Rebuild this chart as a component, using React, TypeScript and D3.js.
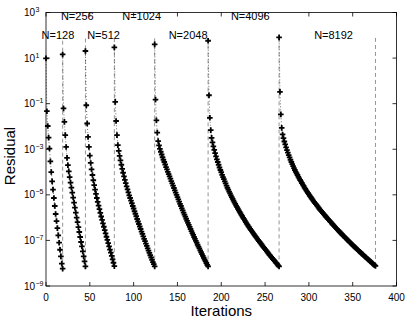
import React from "react";
import * as d3 from "d3";

// grid sizes, and the iteration at which each grid's solve starts
const gridSizes = [128, 256, 512, 1024, 2048, 4096, 8192];
const startIters = [0, 19, 45, 78, 124, 185, 266];

// log10 of the residual, one entry per iteration
const log10Res128 = [0.99, -1.33, -1.98, -2.49, -2.97, -3.53, -4.0, -4.41, -4.77, -5.14, -5.49, -5.84, -6.15, -6.46, -6.78, -7.1, -7.41, -7.7, -8.02, -8.24];
const log10Res256 = [1.16, -1.21, -1.8, -2.38, -2.9, -3.38, -3.7, -3.97, -4.22, -4.46, -4.68, -4.9, -5.12, -5.34, -5.56, -5.78, -6.0, -6.2, -6.42, -6.63, -6.85, -7.07, -7.26, -7.48, -7.7, -7.92, -8.14];
const log10Res512 = [1.31, -1.07, -1.87, -2.46, -2.9, -3.28, -3.6, -3.88, -4.13, -4.36, -4.57, -4.77, -4.96, -5.14, -5.31, -5.47, -5.63, -5.79, -5.95, -6.1, -6.25, -6.4, -6.55, -6.69, -6.84, -6.98, -7.12, -7.26, -7.4, -7.54, -7.68, -7.83, -7.98, -8.13];
const log10Res1024 = [1.47, -0.92, -1.76, -2.38, -2.82, -3.07, -3.29, -3.49, -3.68, -3.86, -4.03, -4.19, -4.34, -4.49, -4.63, -4.76, -4.89, -5.02, -5.14,
  -5.25, -5.37, -5.49, -5.6, -5.72, -5.83, -5.94, -6.06, -6.17, -6.28, -6.39, -6.5, -6.61, -6.71, -6.82, -6.93, -7.03, -7.14, -7.24, -7.35,
  -7.45, -7.55, -7.65, -7.75, -7.85, -7.95, -8.04, -8.14];
const log10Res2048 = [1.6, -0.82, -1.73, -2.27, -2.64, -2.83, -2.98, -3.11, -3.23, -3.35, -3.46, -3.56, -3.67, -3.78, -3.88, -3.99, -4.09, -4.19,
  -4.29, -4.4, -4.5, -4.6, -4.7, -4.8, -4.9, -5.0, -5.1, -5.2, -5.3, -5.4, -5.49, -5.59,
  -5.68, -5.78, -5.87, -5.96, -6.05, -6.14, -6.23, -6.32, -6.41, -6.5, -6.59, -6.68, -6.76, -6.85, -6.93, -7.02, -7.1, -7.19, -7.27, -7.35, -7.44,
  -7.52, -7.6, -7.68, -7.76, -7.84, -7.91, -7.99, -8.07, -8.14];
const log10Res4096 = [1.76, -0.63, -1.62, -2.16, -2.5,
  -2.7, -2.87, -3.03, -3.17, -3.31, -3.44, -3.56, -3.68, -3.8, -3.91, -4.01, -4.12,
  -4.22, -4.31, -4.41, -4.5, -4.6, -4.69, -4.77, -4.86, -4.94, -5.02, -5.1, -5.18, -5.25,
  -5.33, -5.4, -5.47, -5.54, -5.61, -5.68, -5.75, -5.81, -5.88, -5.94, -6.01, -6.07, -6.13, -6.2, -6.26, -6.32, -6.38, -6.43, -6.49, -6.55, -6.6, -6.66, -6.71,
  -6.77, -6.82, -6.87, -6.92, -6.98, -7.03, -7.08, -7.13, -7.18, -7.23, -7.28, -7.33, -7.38, -7.43, -7.48, -7.53, -7.58, -7.63, -7.67, -7.72, -7.77, -7.82, -7.86, -7.91, -7.96, -8.0, -8.05, -8.1, -8.14];
const log10Res8192 = [1.91, -0.48, -1.47, -2.06, -2.35,
  -2.51, -2.66, -2.79, -2.92, -3.04, -3.15, -3.26, -3.36, -3.46, -3.56, -3.65, -3.74, -3.83, -3.91, -3.99, -4.06,
  -4.13, -4.21, -4.28, -4.35, -4.41, -4.48, -4.55, -4.61, -4.68, -4.74,
  -4.8, -4.86, -4.92, -4.98, -5.04, -5.09, -5.15, -5.2, -5.25, -5.31,
  -5.36, -5.41, -5.46, -5.51, -5.56, -5.61, -5.66, -5.7, -5.75, -5.8,
  -5.85, -5.89, -5.94, -5.98, -6.03, -6.07, -6.11, -6.16, -6.2, -6.25,
  -6.29, -6.33, -6.37, -6.42, -6.46, -6.5, -6.54, -6.58, -6.62, -6.66,
  -6.7, -6.74, -6.78, -6.82, -6.86, -6.9, -6.94, -6.98, -7.01, -7.05,
  -7.09, -7.13, -7.17, -7.2, -7.24, -7.28, -7.31, -7.35, -7.39, -7.42,
  -7.46, -7.5, -7.53, -7.57, -7.6, -7.64, -7.67, -7.71, -7.74, -7.78,
  -7.81, -7.85, -7.88, -7.92, -7.95, -7.99, -8.02, -8.06, -8.09, -8.12];

const seriesLogs = [log10Res128, log10Res256, log10Res512, log10Res1024, log10Res2048, log10Res4096, log10Res8192];

// text annotations "N=..." (iteration where the text starts, log10 height)
const labelIters = [-5, 17, 47, 87, 140, 211, 306];
const labelLogY = [1.84, 2.65, 1.84, 2.65, 1.84, 2.65, 1.84];
const separatorTop = 80; // residual where the dashed end markers stop

const xTicks = [0, 50, 100, 150, 200, 250, 300, 350, 400];
const yTickExps = [3, 1, -1, -3, -5, -7, -9];

const FONT = "'Liberation Sans', Arial, Helvetica, sans-serif";

export default function App() {
  const W = 409, H = 322;
  const m = {top: 12.5, right: 12.5, bottom: 36, left: 46};

  const x = d3.scaleLinear().domain([0, 400]).range([m.left, W - m.right]);
  const y = d3.scaleLog().domain([1e-9, 1e3]).range([H - m.bottom, m.top]);

  const series = gridSizes.map((n, i) => ({
    n,
    pts: seriesLogs[i].map((e, k) => [startIters[i] + k, Math.pow(10, e)] as [number, number]),
  }));

  const line = d3.line<[number, number]>().x(d => x(d[0])).y(d => y(d[1]));

  const x0 = m.left, x1 = W - m.right, y0 = H - m.bottom, y1 = m.top;
  const tk = 4;

  return (
    <div>
      <style>{`body{margin:0}`}</style>
      <svg width={W} height={H} style={{display: "block", background: "#fff"}} fontFamily={FONT}>
        {/* dashed separators at the last iteration of each grid */}
        {series.map(s => {
          const last = s.pts[s.pts.length - 1];
          return (
            <line key={"sep" + s.n} x1={x(last[0])} x2={x(last[0])} y1={y(last[1])} y2={y(separatorTop)}
                  stroke="#7a7a7a" strokeWidth={0.8} strokeDasharray="4,3"/>
          );
        })}

        {/* dotted residual lines */}
        {series.map(s => (
          <path key={"ln" + s.n} d={line(s.pts) || ""} fill="none" stroke="#333" strokeWidth={0.7} strokeDasharray="1,2"/>
        ))}

        {/* plus markers */}
        {series.map(s => (
          <g key={"mk" + s.n}>
            {s.pts.map((p, k) => (
              <path key={k} transform={`translate(${x(p[0])},${y(p[1])})`} d="M-2.8,0H2.8M0,-2.8V2.8"
                    stroke="#000" strokeWidth={1.8} fill="none"/>
            ))}
          </g>
        ))}

        {/* labels */}
        {gridSizes.map((n, i) => (
          <text key={"lb" + n} x={x(labelIters[i])} y={y(Math.pow(10, labelLogY[i]))} fontSize={11} fill="#000">
            {`N=${n}`}
          </text>
        ))}

        {/* axes box */}
        <rect x={x0} y={y1} width={x1 - x0} height={y0 - y1} fill="none" stroke="#000" strokeWidth={0.8}/>

        {xTicks.map(t => (
          <g key={"xt" + t}>
            <line x1={x(t)} x2={x(t)} y1={y0} y2={y0 - tk} stroke="#000" strokeWidth={0.8}/>
            <line x1={x(t)} x2={x(t)} y1={y1} y2={y1 + tk} stroke="#000" strokeWidth={0.8}/>
            <text x={x(t)} y={y0 + 15} fontSize={10} textAnchor="middle">{t}</text>
          </g>
        ))}

        {yTickExps.map(e => {
          const yy = y(Math.pow(10, e));
          return (
            <g key={"yt" + e}>
              <line x1={x0} x2={x0 + tk} y1={yy} y2={yy} stroke="#000" strokeWidth={0.8}/>
              <line x1={x1} x2={x1 - tk} y1={yy} y2={yy} stroke="#000" strokeWidth={0.8}/>
              <text x={35} y={yy + 3.6} fontSize={10} textAnchor="end">10</text>
              <text x={35.5} y={yy - 0.5} fontSize={7}>{e < 0 ? `\u2212${-e}` : `${e}`}</text>
            </g>
          );
        })}

        <text x={(x0 + x1) / 2} y={316} fontSize={15} textAnchor="middle">Iterations</text>
        <text transform={`translate(15,156) rotate(-90)`} fontSize={15} textAnchor="middle">Residual</text>
      </svg>
    </div>
  );
}
